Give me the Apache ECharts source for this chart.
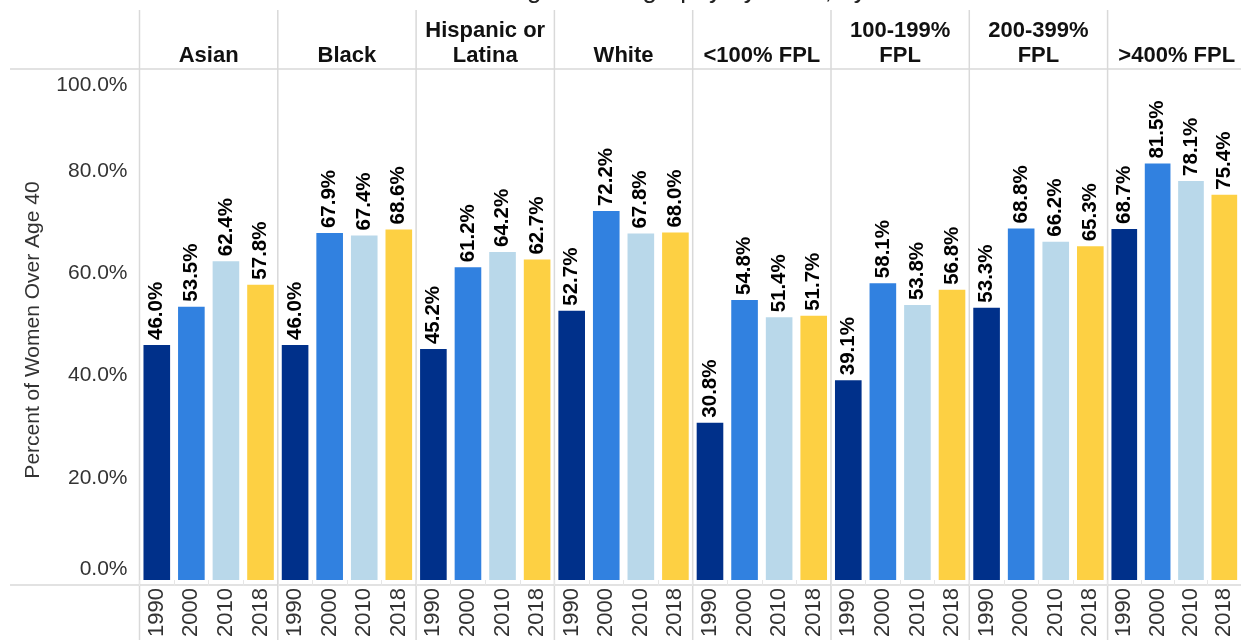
<!DOCTYPE html>
<html>
<head>
<meta charset="utf-8">
<script src="https://cdn.jsdelivr.net/npm/echarts@6/dist/echarts.min.js"></script>
<style>
html,body{margin:0;padding:0;background:#fff;}
#chart{width:1241px;height:640px;}
</style>
</head>
<body>
<div id="chart"></div>
<script>
// ---- data ----
const years = ['1990', '2000', '2010', '2018'];
const groups = ['Asian', 'Black', 'Hispanic or\nLatina', 'White', '<100% FPL', '100-199%\nFPL', '200-399%\nFPL', '>400% FPL'];
const asian = [46.0, 53.5, 62.4, 57.8];
const black = [46.0, 67.9, 67.4, 68.6];
const hispanic = [45.2, 61.2, 64.2, 62.7];
const white = [52.7, 72.2, 67.8, 68.0];
const fplUnder100 = [30.8, 54.8, 51.4, 51.7];
const fpl100to199 = [39.1, 58.1, 53.8, 56.8];
const fpl200to399 = [53.3, 68.8, 66.2, 65.3];
const fplOver400 = [68.7, 81.5, 78.1, 75.4];
const yTicks = [0, 20, 40, 60, 80, 100];
const yTitle = 'Percent of Women Over Age 40';
const chartTitle = 'Women Receiving Mammography by Race, by Year';

const groupValues = [asian, black, hispanic, white, fplUnder100, fpl100to199, fpl200to399, fplOver400];
const yearColors = ['#00308A', '#3181E0', '#B9D8EA', '#FDD043'];

// ---- layout ----
const FONT = '"Liberation Sans", Arial, sans-serif';
const LEFT0 = 139.5, PANEL_W = 138.3, PLOT_TOP = 69, PLOT_H = 516;
const PLOT_BOTTOM = PLOT_TOP + PLOT_H;
const LINE_COLOR = '#d9d9d9';

const grids = [], xAxes = [], yAxes = [], seriesList = [], graphics = [];
groupValues.forEach((vals, i) => {
  const gl = LEFT0 + PANEL_W * i;
  grids.push({left: gl, top: PLOT_TOP, width: PANEL_W, height: PLOT_H, containLabel: false});
  xAxes.push({
    type: 'category', gridIndex: i, data: years,
    axisLine: {show: false},
    axisTick: {show: true, length: 6, lineStyle: {color: '#e6e6e6'}},
    axisLabel: {rotate: 90, interval: 0, fontSize: 22, color: '#333', fontFamily: FONT, margin: 8}
  });
  yAxes.push({
    type: 'value', gridIndex: i, min: yTicks[0], max: yTicks[yTicks.length - 1], interval: 20,
    splitLine: {show: false}, axisLine: {show: false}, axisTick: {show: false},
    axisLabel: i === 0 ? {
      show: true, fontSize: 21, color: '#333', fontFamily: FONT, margin: 12,
      padding: [6, 0, 0, 0],
      formatter: v => v.toFixed(1) + '%',
      verticalAlignMinLabel: 'bottom', verticalAlignMaxLabel: 'top'
    } : {show: false}
  });
  seriesList.push({
    type: 'bar', xAxisIndex: i, yAxisIndex: i,
    barWidth: '77%',
    data: vals.map((v, k) => ({value: v, itemStyle: {color: yearColors[k]}})),
    label: {
      show: true, position: 'top', rotate: 90, align: 'left', verticalAlign: 'middle',
      distance: 5, fontSize: 20.5, fontWeight: 'bold', color: '#000', fontFamily: FONT,
      formatter: p => p.value.toFixed(1) + '%'
    },
    silent: true, animation: false
  });
  graphics.push({
    type: 'text', x: gl + PANEL_W / 2, y: 68,
    style: {text: groups[i], font: 'bold 22px ' + FONT, fill: '#111', align: 'center', verticalAlign: 'bottom', lineHeight: 25}
  });
  graphics.push({type: 'line', shape: {x1: gl, y1: 10, x2: gl, y2: 640}, style: {stroke: LINE_COLOR, lineWidth: 1.5}});
});
graphics.push({type: 'line', shape: {x1: LEFT0 + PANEL_W * 8, y1: 10, x2: LEFT0 + PANEL_W * 8, y2: 640}, style: {stroke: LINE_COLOR, lineWidth: 1.5}});
graphics.push({type: 'line', shape: {x1: 10, y1: PLOT_TOP, x2: 1241, y2: PLOT_TOP}, style: {stroke: LINE_COLOR, lineWidth: 1.5}});
graphics.push({type: 'line', shape: {x1: 10, y1: PLOT_BOTTOM, x2: 1241, y2: PLOT_BOTTOM}, style: {stroke: LINE_COLOR, lineWidth: 1.5}});
graphics.push({
  type: 'text', x: 33, y: (PLOT_TOP + PLOT_BOTTOM) / 2 + 3, rotation: Math.PI / 2,
  style: {text: yTitle, font: '21px ' + FONT, fill: '#333', align: 'center', verticalAlign: 'middle'}
});
graphics.push({
  type: 'text', x: 331, y: 4,
  style: {text: chartTitle, font: '26px ' + FONT, fill: '#222', align: 'left', verticalAlign: 'bottom'}
});

const chart = echarts.init(document.getElementById('chart'), null, {renderer: 'canvas'});
chart.setOption({
  animation: false,
  backgroundColor: '#fff',
  grid: grids, xAxis: xAxes, yAxis: yAxes, series: seriesList,
  graphic: {elements: graphics}
});
</script>
</body>
</html>
